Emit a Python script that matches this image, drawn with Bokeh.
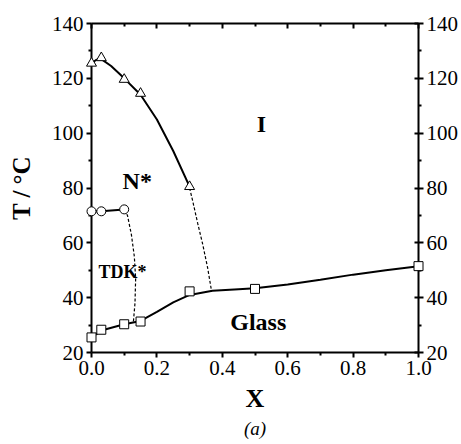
from bokeh.plotting import figure
from bokeh.models import (Range1d, LinearAxis, FixedTicker, NumeralTickFormatter,
                          Title, Label)
from bokeh.embed import file_html
from bokeh.resources import INLINE

# ---- data ----
tri_x = [0.0, 0.03, 0.1, 0.15, 0.3]
tri_y = [125.5, 127.5, 119.6, 114.5, 80.5]
tri_curve_x = [0.0, 0.015, 0.03, 0.06, 0.1, 0.15, 0.2, 0.25, 0.3]
tri_curve_y = [125.5, 126.8, 127.0, 124.5, 120.0, 114.0, 105.0, 93.5, 80.5]

circ_x = [0.0, 0.03, 0.1]
circ_y = [71.5, 71.5, 72.2]

sq_x = [0.0, 0.03, 0.1, 0.15, 0.3, 0.5, 1.0]
sq_y = [25.5, 28.3, 30.3, 31.3, 42.3, 43.2, 51.5]
glass_x = [0.0, 0.03, 0.1, 0.15, 0.2, 0.25, 0.3, 0.37, 0.45, 0.5, 0.6, 0.7, 0.8, 0.9, 1.0]
glass_y = [25.5, 28.0, 30.3, 31.5, 34.8, 38.3, 41.0, 42.5, 43.1, 43.4, 44.8, 46.5, 48.4, 50.0, 51.5]

dash1_x = [0.1, 0.11, 0.122, 0.131, 0.135, 0.133, 0.128]
dash1_y = [72.0, 70.0, 63.0, 55.0, 47.0, 38.0, 31.0]
dash2_x = [0.3, 0.31, 0.325, 0.34, 0.355, 0.367]
dash2_y = [80.0, 75.0, 67.0, 59.5, 51.0, 42.5]

x_ticks = [0.0, 0.2, 0.4, 0.6, 0.8, 1.0]
x_minor = [0.1, 0.3, 0.5, 0.7, 0.9]
y_ticks = [20, 40, 60, 80, 100, 120, 140]
y_minor = [30, 50, 70, 90, 110, 130]

regions = ["I", "N*", "TDK*", "Glass"]
region_x = [0.52, 0.14, 0.095, 0.51]
region_y = [103.5, 82.5, 49.5, 31.0]
region_size = ["24px", "24px", "18px", "24px"]

FONT = "Liberation Serif"

p = figure(width=461, height=444, output_backend="svg", toolbar_location=None,
           x_range=Range1d(0, 1.0), y_range=Range1d(20, 140),
           min_border_left=91, min_border_right=42, min_border_top=23,
           min_border_bottom=92)
p.outline_line_color = None
p.xgrid.visible = False
p.ygrid.visible = False

# lines
p.line(tri_curve_x, tri_curve_y, line_color="black", line_width=2)
p.line(circ_x, circ_y, line_color="black", line_width=2)
p.line(glass_x, glass_y, line_color="black", line_width=2)
p.line(dash1_x, dash1_y, line_color="black", line_width=1.2, line_dash="3 2")
p.line(dash2_x, dash2_y, line_color="black", line_width=1.2, line_dash="3 2")

# markers
r1 = p.scatter(tri_x, tri_y, marker="triangle", size=10, fill_color="white",
               line_color="black", line_width=1)
r2 = p.scatter(circ_x, circ_y, marker="circle", size=9, fill_color="white",
               line_color="black", line_width=1)
r3 = p.scatter(sq_x, sq_y, marker="square", size=9, fill_color="white",
               line_color="black", line_width=1)
for r in (r1, r2, r3):
    r.level = "overlay"

for t, x, y, s in zip(regions, region_x, region_y, region_size):
    p.add_layout(Label(x=x, y=y, text=t, text_font=FONT, text_font_style="bold",
                       text_font_size=s, text_color="black",
                       text_align="center", text_baseline="middle"))

def style(ax, labels=True, inside=False):
    ax.axis_line_width = 2
    ax.axis_line_color = "black"
    ax.major_tick_line_width = 2
    ax.minor_tick_line_width = 2
    ax.major_tick_line_color = "black"
    ax.minor_tick_line_color = "black"
    if inside:
        ax.major_tick_in = 5
        ax.major_tick_out = 0
        ax.minor_tick_in = 3
        ax.minor_tick_out = 0
    else:
        ax.major_tick_in = 0
        ax.major_tick_out = 5
        ax.minor_tick_in = 0
        ax.minor_tick_out = 3
    ax.major_label_text_font = FONT
    ax.major_label_text_font_size = "21px"
    ax.major_label_text_color = "black" if labels else None
    ax.major_label_standoff = 3

xt = FixedTicker(ticks=x_ticks, minor_ticks=x_minor)
yt = FixedTicker(ticks=y_ticks, minor_ticks=y_minor)

xa = p.xaxis[0]
xa.ticker = xt
xa.formatter = NumeralTickFormatter(format="0.0")
style(xa)
xa.axis_label = "X"
xa.axis_label_text_font = FONT
xa.axis_label_text_font_style = "bold"
xa.axis_label_text_font_size = "26px"
xa.axis_label_text_color = "black"
xa.axis_label_standoff = 6

ya = p.yaxis[0]
ya.ticker = yt
style(ya)
ya.axis_label = "T / \u00b0C"
ya.axis_label_text_font = FONT
ya.axis_label_text_font_style = "bold"
ya.axis_label_text_font_size = "25px"
ya.axis_label_text_color = "black"
ya.axis_label_standoff = 14

top = LinearAxis(ticker=FixedTicker(ticks=x_ticks, minor_ticks=x_minor))
style(top, labels=False, inside=True)
p.add_layout(top, "above")

right = LinearAxis(ticker=FixedTicker(ticks=y_ticks, minor_ticks=y_minor))
style(right)
right.major_tick_in = 4
p.add_layout(right, "right")

p.add_layout(Title(text="(a)", align="center", text_font=FONT,
                   text_font_style="italic", text_font_size="19px",
                   text_color="black", offset=0, standoff=0), "below")

open("out.html", "w").write(file_html(p, INLINE))
